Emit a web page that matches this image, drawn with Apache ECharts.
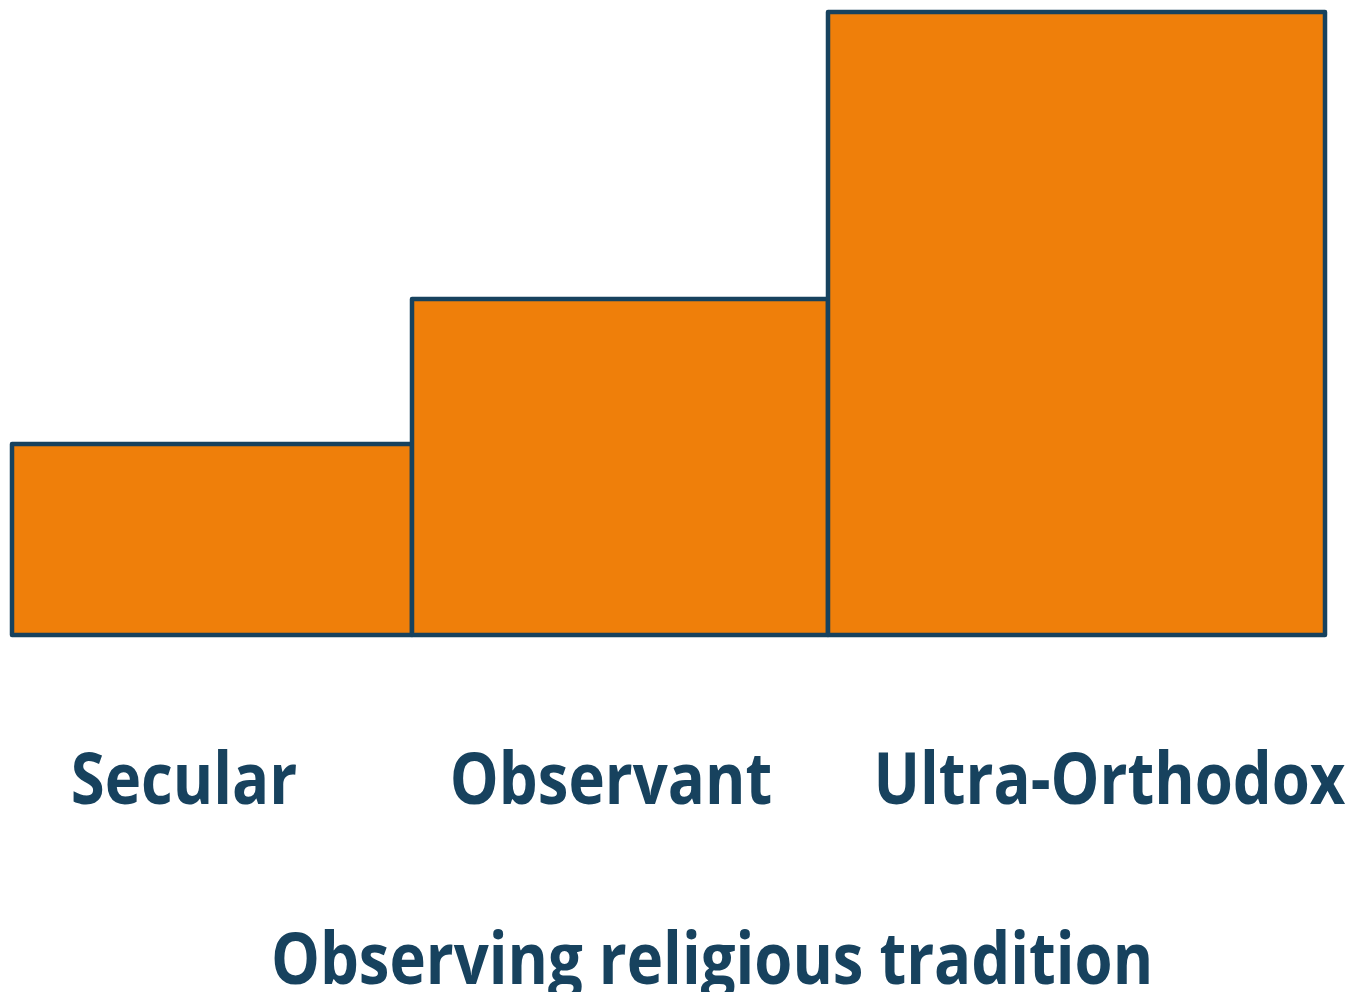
<!DOCTYPE html>
<html>
<head>
<meta charset="utf-8">
<script src="https://cdn.jsdelivr.net/npm/echarts@6/dist/echarts.min.js"></script>
<style>
  html, body { margin: 0; padding: 0; background: #fff; }
  #myChart { width: 1348px; height: 992px; }
</style>
</head>
<body>
<div id="myChart"></div>
<script>
// data
var categories = ["Secular", "Observant", "Ultra-Orthodox"];
var widths = [40.0, 41.6, 49.7];   // share of population (relative)
var heights = [19.1, 33.6, 62.3];  // value per group (relative)
var axisTitle = "Observing religious tradition";

// label nudges (px), style only
var labelShift = [-28, -9, 33];

var font = '"Open Sans", sans-serif';
var squeeze = 0.855; // narrow the font a bit, source looks like Calibri
var orange = "#ef7f0a";
var navy = "#17425e";

var starts = [];
var acc = 0;
for (var i = 0; i < widths.length; i++) {
  starts.push(acc);
  acc += widths[i];
}
var seriesData = categories.map(function (c, i) {
  return [starts[i], starts[i] + widths[i], heights[i], c];
});

var myChart = echarts.init(document.getElementById("myChart"));
var option = {
  animation: false,
  graphic: [
    {
      type: "text",
      x: 712,
      y: 963,
      scaleX: squeeze,
      style: {
        text: axisTitle,
        fontFamily: font,
        fontWeight: "bold",
        fontSize: 72,
        fill: navy,
        align: "center",
        verticalAlign: "middle"
      }
    }
  ],
  grid: { left: 12, right: 23, top: 12, bottom: 357 },
  xAxis: { type: "value", min: 0, max: acc, show: false },
  yAxis: { type: "value", min: 0, max: 62.3, show: false },
  series: [
    {
      type: "custom",
      data: seriesData,
      encode: { x: [0, 1], y: 2 },
      renderItem: function (params, api) {
        var p0 = api.coord([api.value(0), 0]);
        var p1 = api.coord([api.value(1), api.value(2)]);
        var idx = params.dataIndex;
        return {
          type: "group",
          children: [
            {
              type: "rect",
              shape: { x: p0[0], y: p1[1], width: p1[0] - p0[0], height: p0[1] - p1[1] },
              style: { fill: orange, stroke: navy, lineWidth: 4.5, lineJoin: "round" }
            },
            {
              type: "text",
              x: (p0[0] + p1[0]) / 2 + labelShift[idx],
              y: 783,
              scaleX: squeeze,
              style: {
                text: categories[idx],
                fontFamily: font,
                fontWeight: "bold",
                fontSize: 72,
                fill: navy,
                align: "center",
                verticalAlign: "middle"
              }
            }
          ]
        };
      }
    }
  ]
};
myChart.setOption(option);
</script>
</body>
</html>
